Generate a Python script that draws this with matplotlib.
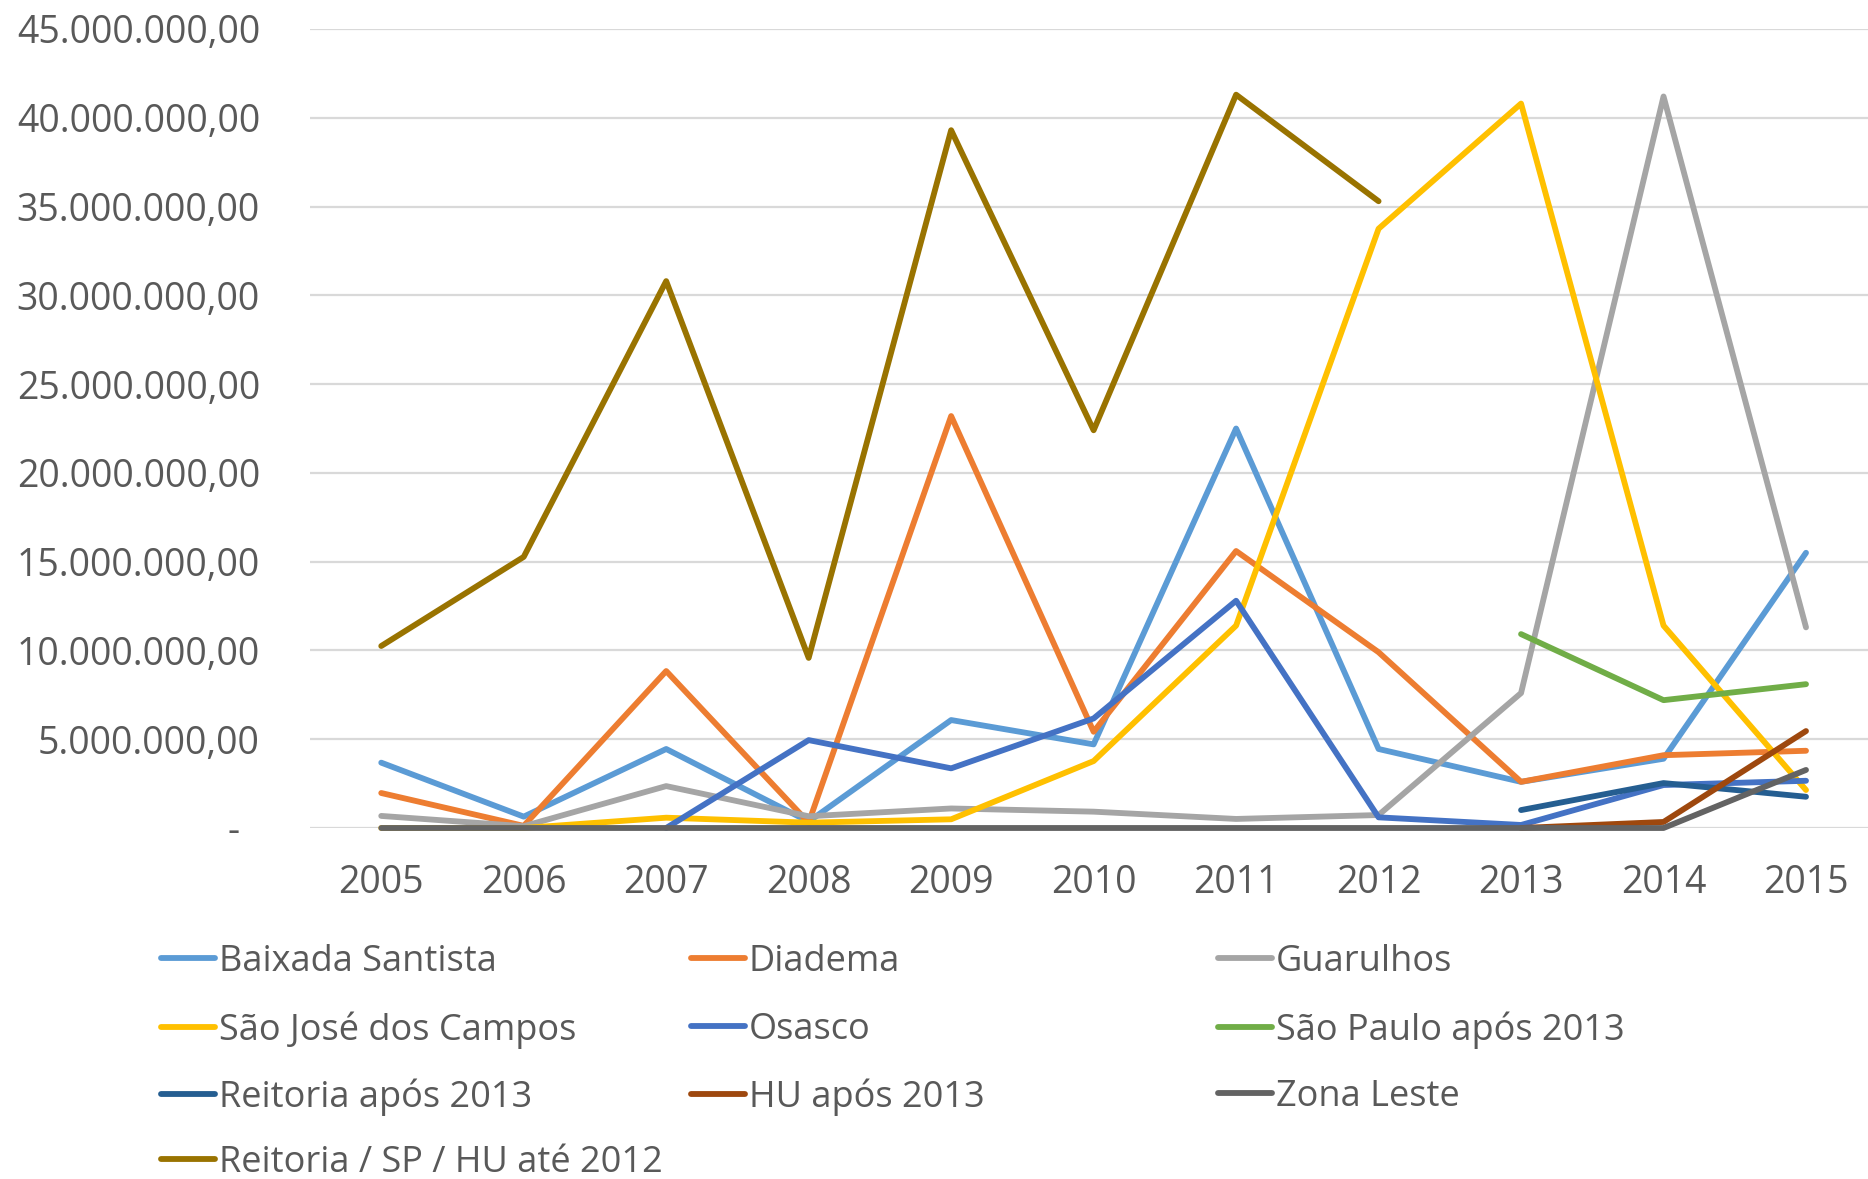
import numpy as np
import matplotlib.pyplot as plt
from matplotlib.ticker import FuncFormatter, MultipleLocator

plt.rcParams['font.family'] = ['Open Sans', 'DejaVu Sans']

years = list(range(2005, 2016))
nan = np.nan

# values in R$ millions
baixada = [3.68, 0.64, 4.45, 0.36, 6.08, 4.71, 22.5, 4.45, 2.6, 3.9, 15.5]
diadema = [1.97, 0.12, 8.84, 0.3, 23.2, 5.42, 15.6, 9.9, 2.6, 4.1, 4.35]
guarulhos = [0.68, 0.1, 2.36, 0.66, 1.1, 0.92, 0.51, 0.73, 7.6, 41.2, 11.3]
sjc = [0.0, 0.0, 0.58, 0.3, 0.49, 3.77, 11.4, 33.75, 40.8, 11.4, 2.14]
osasco = [nan, nan, 0.0, 4.95, 3.36, 6.17, 12.8, 0.6, 0.17, 2.42, 2.66]
sp_apos = [nan, nan, nan, nan, nan, nan, nan, nan, 10.92, 7.2, 8.1]
reitoria_apos = [nan, nan, nan, nan, nan, nan, nan, nan, 1.01, 2.53, 1.76]
hu_apos = [nan, nan, nan, nan, nan, nan, nan, nan, 0.0, 0.34, 5.46]
zona_leste = [0, 0, 0, 0, 0, 0, 0, 0, 0, 0, 3.27]
reitoria_ate = [10.25, 15.27, 30.8, 9.58, 39.3, 22.4, 41.3, 35.3, nan, nan, nan]

series = [
    ("Baixada Santista", baixada, "#5B9BD5"),
    ("Diadema", diadema, "#ED7D31"),
    ("Guarulhos", guarulhos, "#A5A5A5"),
    ("São José dos Campos", sjc, "#FFC000"),
    ("Osasco", osasco, "#4472C4"),
    ("São Paulo após 2013", sp_apos, "#70AD47"),
    ("Reitoria após 2013", reitoria_apos, "#255E91"),
    ("HU após 2013", hu_apos, "#9E480E"),
    ("Zona Leste", zona_leste, "#636363"),
    ("Reitoria / SP / HU até 2012", reitoria_ate, "#997300"),
]

TEXT = "#595959"


def br_fmt(v, pos):
    if abs(v) < 1:
        return "-  "
    s = f"{v * 1e6:,.2f}"
    return s.replace(",", "X").replace(".", ",").replace("X", ".")


fig = plt.figure(figsize=(18.68, 11.79), dpi=100)
ax = fig.add_axes([310 / 1868, 1 - 828 / 1179, 1558 / 1868, 799 / 1179])

handles = []
for name, vals, color in series:
    h, = ax.plot(years, vals, color=color, linewidth=4.2, label=name,
                 solid_capstyle="round", solid_joinstyle="round",
                 clip_on=False)
    handles.append(h)

ax.set_xlim(2004.5, 2015 + 62 / 142.5)
ax.set_ylim(0, 45)
ax.yaxis.set_major_locator(MultipleLocator(5))
ax.yaxis.set_major_formatter(FuncFormatter(br_fmt))
ax.set_xticks(years)
ax.grid(axis="y", color="#D9D9D9", linewidth=1.6)
ax.set_axisbelow(True)
for sp in ax.spines.values():
    sp.set_visible(False)
ax.tick_params(axis="both", length=0, labelsize=27, colors=TEXT)
ax.tick_params(axis="y", pad=36)
ax.tick_params(axis="x", pad=26)

# legend laid out row-wise, three fixed-width columns
col_x = [161, 691, 1218]
row_y = [962, 1030, 1097, 1163]
for i, h in enumerate(handles):
    r, c = divmod(i, 3)
    leg = fig.legend(handles=[h], loc="center left",
                     bbox_to_anchor=(col_x[c] / 1868, 1 - row_y[r] / 1179),
                     frameon=False, fontsize=26, handlelength=1.5,
                     handletextpad=0.1, borderpad=0, borderaxespad=0)
    for t in leg.get_texts():
        t.set_color(TEXT)

fig.savefig("out.png", dpi=100)
